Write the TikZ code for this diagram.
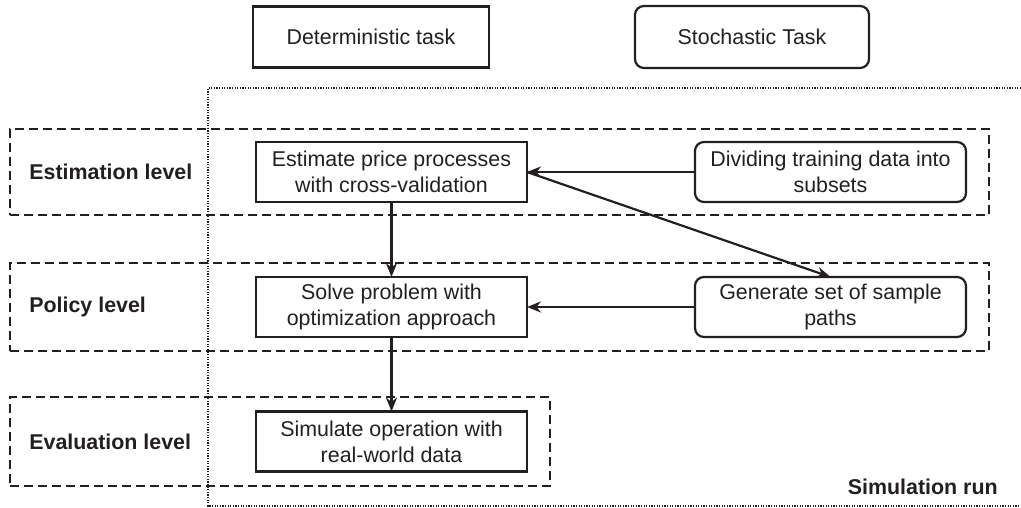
\documentclass[tikz,border=0pt]{standalone}
\usepackage{fontspec}
\setmainfont{Liberation Sans}
\usetikzlibrary{arrows.meta}
\definecolor{ink}{HTML}{231F20}
\begin{document}
\begin{tikzpicture}[x=1pt,y=-1pt,
  every node/.style={outer sep=0pt, text=ink, font=\fontsize{21.4}{25.8}\selectfont},
  taskbox/.style={draw=ink, line width=2.2pt, minimum width=271pt, minimum height=60pt, align=center, inner sep=2pt},
  stochbox/.style={taskbox, rounded corners=9pt},
  levelbox/.style={draw=ink, line width=2.3pt, dash pattern=on 9pt off 5pt},
  levellabel/.style={anchor=west, font=\fontsize{21.4}{25.8}\selectfont\bfseries},
  arr/.style={draw=ink, line width=2.2pt, -{Stealth[length=14pt,width=11pt]}}
]
\useasboundingbox (0,0) rectangle (1021,507);

% simulation run (dotted)
\coordinate (simtr) at (1021,88);
\coordinate (simtl) at (208,88);
\coordinate (simbl) at (208,506);
\coordinate (simbr) at (1021,506);
\draw[ink, line width=1.8pt, dash pattern=on 1.3pt off 1.3pt] (simtr) -- (simtl) -- (simbl) -- (simbr);
\node[anchor=east, font=\fontsize{21.4}{25.8}\selectfont\bfseries] (simrun) at (1001,487) {Simulation run};

% level frames
\node[levelbox, minimum width=979pt, minimum height=86pt] (estlvl) at (499.5,172) {};
\node[levelbox, minimum width=979pt, minimum height=88pt] (pollvl) at (499.5,307) {};
\node[levelbox, minimum width=540pt, minimum height=89pt] (evallvl) at (280,441.5) {};

\node[levellabel] (estlab) at (26,172) {Estimation level};
\node[levellabel] (pollab) at (26,307) {Policy level};
\node[levellabel] (evallab) at (26,442) {Evaluation level};

% header boxes
\node[taskbox, minimum width=236pt, minimum height=61pt] (det) at (371,37) {Deterministic task};
\node[stochbox, minimum width=234pt, minimum height=62pt] (sto) at (752,37) {Stochastic Task};

% process boxes
\node[taskbox] (estimate) at (391.5,172) {Estimate price processes\\with cross-validation};
\node[stochbox] (divide) at (830.5,172) {Dividing training data into\\subsets};
\node[taskbox] (solve) at (391.5,307) {Solve problem with\\optimization approach};
\node[stochbox] (generate) at (830.5,307) {Generate set of sample\\paths};
\node[taskbox] (simulate) at (391.5,441.5) {Simulate operation with\\real-world data};

% connectors
\draw[arr] (estimate) -- (solve);
\draw[arr] (solve) -- (simulate);
\draw[arr] (divide) -- (estimate);
\draw[arr] (generate) -- (solve);
\draw[arr] (estimate.east) -- (generate.north);
\end{tikzpicture}
\end{document}
